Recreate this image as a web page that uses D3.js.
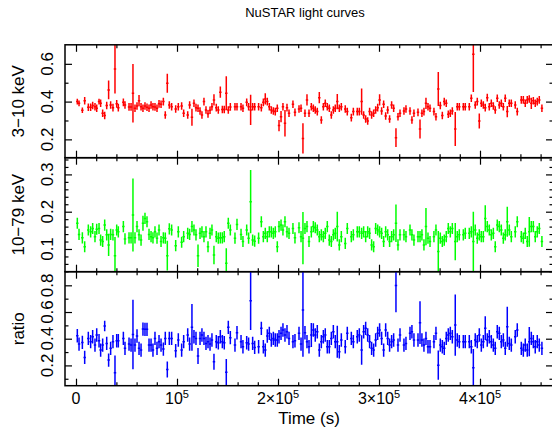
<!DOCTYPE html>
<html><head><meta charset="utf-8">
<script src="https://cdn.jsdelivr.net/npm/d3@7/dist/d3.min.js"></script>
<style>body{margin:0;background:#fff}svg{display:block}text{font-family:"Liberation Sans",Arial,Helvetica,sans-serif}</style>
</head><body>
<script>
// ---- data (time in ks) ----
const timeKs = [1.3,3.0,6.3,8.6,12.2,14.5,16.5,18.8,20.5,22.8,24.4,26.4,28.4,30.4,32.3,34.3,36.6,38.6,40.3,41.9,46.9,48.5,52.5,54.5,56.4,58.4,60.4,62.4,64.4,66.3,68.3,70.3,72.3,74.3,76.2,78.2,80.2,82.2,84.2,86.5,88.4,90.4,92.4,94.7,98.7,101.3,104.6,106.6,110.6,112.5,114.8,116.8,118.8,120.8,122.8,124.7,126.7,128.7,130.7,132.7,134.6,136.6,138.9,140.9,142.9,144.9,146.8,148.8,150.8,152.8,157.4,159.4,163.4,165.3,169.0,170.9,172.9,174.9,176.9,180.8,183.5,185.5,187.4,189.4,191.4,193.4,195.4,197.3,199.3,201.0,203.0,204.9,206.9,208.9,210.9,214.8,216.8,220.8,222.8,224.7,226.7,228.7,230.7,
233.0,235.0,236.9,238.9,240.9,242.9,244.9,246.8,248.8,250.8,252.8,254.8,256.7,258.7,260.7,262.7,266.6,268.6,272.6,274.6,278.5,280.5,282.8,284.8,286.8,288.8,290.7,292.7,294.7,296.7,298.7,300.6,302.6,304.6,306.6,308.6,310.5,312.5,314.5,316.8,318.8,320.8,324.7,326.7,330.7,332.6,334.6,338.6,340.6,342.5,344.5,346.5,348.5,350.5,354.4,356.4,358.7,360.7,362.7,364.6,366.6,368.6,370.6,372.6,375.5,377.5,379.5,383.5,385.4,389.4,391.4,393.4,395.3,397.3,399.3,401.3,403.3,405.2,407.2,409.2,411.2,413.2,415.1,417.1,419.1,421.1,423.1,425.0,427.0,429.0,431.0,434.9,436.9,440.9,442.9,444.8,446.8,448.8,450.8,452.8,454.7,456.7,458.7,461.3];
const binHalfKs = 1.2;

const soft = [0.400,0.391,0.354,0.405,0.370,0.370,0.379,0.373,0.365,0.400,
0.391,0.338,0.326,0.379,0.462,0.382,0.368,0.573,0.388,0.368,
0.396,0.382,0.372,0.372,0.444,0.365,0.377,0.405,0.373,0.365,
0.377,0.370,0.365,0.382,0.373,0.372,0.365,0.388,0.386,0.400,
0.329,0.497,0.382,0.373,0.361,0.373,0.377,0.338,0.329,0.382,
0.317,0.391,0.368,0.365,0.350,0.329,0.400,0.356,0.335,0.354,
0.373,0.409,0.368,0.356,0.450,0.358,0.358,0.444,0.356,0.372,
0.373,0.373,0.373,0.365,0.396,0.373,0.356,0.373,0.373,0.373,
0.368,0.396,0.414,0.400,0.373,0.356,0.350,0.347,0.365,0.273,
0.320,0.373,0.285,0.368,0.338,0.386,0.343,0.361,0.365,0.205,
0.338,0.409,0.338,
0.373,0.365,0.356,0.347,0.421,0.303,0.373,0.391,0.373,0.365,
0.329,0.356,0.365,0.400,0.365,0.373,0.361,0.347,0.315,0.347,
0.347,0.347,0.400,0.329,0.308,0.297,0.347,0.329,0.338,0.356,
0.368,0.409,0.350,0.386,0.324,0.356,0.308,0.382,0.365,0.209,
0.320,0.338,0.350,0.361,0.350,0.303,0.338,0.343,0.255,0.338,
0.347,0.391,0.373,0.365,0.347,0.320,0.467,0.379,0.326,0.400,
0.391,0.333,0.338,0.350,0.255,0.373,0.373,0.373,0.373,0.373,
0.418,0.651,0.382,0.400,0.297,0.391,0.382,0.368,0.421,0.373,
0.391,0.377,0.356,0.418,0.382,0.391,0.373,0.418,0.347,0.391,
0.391,0.382,0.347,0.409,0.409,0.391,0.409,0.414,0.391,0.404,
0.391,0.400,0.409,0.365];
const softErr = [.015,.015,.015,.02,.02,.02,.02,.02,.02,.015,
.02,.02,.02,.02,.05,.02,.02,.13,.02,.02,
.02,.02,.02,.02,.155,.02,.02,.03,.02,.02,
.02,.02,.02,.02,.02,.02,.02,.02,.02,.02,
.02,.05,.02,.02,.02,.02,.02,.02,.02,.02,
.045,.02,.02,.02,.02,.02,.02,.02,.02,.02,
.02,.03,.02,.02,.03,.02,.02,.09,.02,.02,
.02,.02,.02,.02,.02,.02,.08,.02,.02,.02,
.02,.02,.03,.02,.02,.02,.02,.02,.02,.03,
.03,.02,.07,.02,.02,.02,.02,.02,.02,.08,
.02,.03,.02,
.02,.02,.02,.02,.03,.02,.02,.02,.02,.02,
.02,.02,.02,.04,.02,.02,.02,.02,.02,.02,
.02,.02,.07,.02,.02,.02,.02,.02,.02,.02,
.02,.03,.02,.02,.02,.02,.02,.02,.02,.05,
.02,.02,.02,.02,.02,.02,.02,.02,.05,.02,
.02,.03,.02,.02,.02,.02,.09,.02,.02,.02,
.02,.02,.02,.02,.09,.02,.02,.02,.02,.02,
.02,.2,.02,.02,.04,.02,.02,.02,.02,.02,
.02,.02,.02,.02,.02,.02,.02,.02,.03,.02,
.02,.02,.02,.02,.02,.02,.02,.02,.03,.02,
.02,.02,.02,.02];

const hard = [0.169,0.139,0.130,0.106,0.151,0.146,0.155,0.133,0.153,0.155,
0.124,0.120,0.164,0.138,0.111,0.139,0.138,0.082,0.151,0.146,
0.160,0.127,0.130,0.130,0.191,0.130,0.160,0.138,0.124,0.169,
0.182,0.173,0.139,0.133,0.130,0.146,0.129,0.151,0.120,0.130,
0.129,0.082,0.154,0.151,0.109,0.146,0.118,0.133,0.142,0.139,
0.160,0.151,0.138,0.082,0.142,0.146,0.133,0.146,0.106,0.142,
0.151,0.084,0.133,0.129,0.130,0.130,0.133,0.062,0.169,0.151,
0.129,0.166,0.139,0.120,0.151,0.129,0.227,0.124,0.121,0.129,
0.173,0.133,0.142,0.133,0.146,0.146,0.142,0.146,0.106,0.160,
0.164,0.151,0.173,0.146,0.142,0.155,0.130,0.157,0.133,0.129,
0.155,0.160,0.120,
0.146,0.160,0.157,0.151,0.133,0.138,0.133,0.142,0.160,0.124,
0.120,0.138,0.142,0.160,0.111,0.133,0.115,0.155,0.133,0.138,
0.146,0.146,0.142,0.146,0.133,0.146,0.142,0.111,0.106,0.155,
0.151,0.146,0.142,0.120,0.146,0.138,0.120,0.133,0.138,0.169,
0.111,0.138,0.138,0.133,0.151,0.138,0.124,0.133,0.133,0.138,
0.111,0.160,0.129,0.120,0.133,0.151,0.093,0.129,0.120,0.124,
0.133,0.155,0.146,0.155,0.120,0.133,0.138,0.138,0.142,0.142,
0.146,0.120,0.151,0.129,0.138,0.133,0.133,0.182,0.160,0.151,
0.138,0.142,0.106,0.164,0.160,0.151,0.129,0.138,0.173,0.151,
0.133,0.146,0.173,0.133,0.129,0.142,0.120,0.146,0.160,0.160,
0.133,0.146,0.155,0.120];
const hardErr = [.015,.015,.015,.015,.015,.015,.015,.015,.015,.015,
.015,.015,.015,.015,.03,.015,.015,.05,.015,.015,
.015,.015,.015,.015,.098,.015,.015,.015,.015,.02,
.015,.015,.015,.015,.015,.015,.015,.015,.015,.015,
.015,.04,.015,.015,.015,.015,.015,.015,.015,.015,
.015,.015,.015,.03,.015,.015,.015,.015,.015,.015,
.015,.025,.015,.015,.015,.015,.015,.04,.015,.015,
.015,.015,.015,.015,.015,.015,.085,.015,.015,.015,
.015,.015,.015,.015,.015,.015,.015,.015,.015,.015,
.015,.015,.015,.015,.015,.015,.015,.015,.015,.07,
.015,.015,.015,
.015,.015,.015,.015,.015,.015,.015,.015,.015,.015,
.015,.015,.015,.04,.015,.015,.015,.015,.015,.015,
.015,.015,.015,.015,.015,.015,.015,.015,.015,.015,
.015,.015,.015,.015,.015,.015,.015,.015,.015,.05,
.015,.015,.015,.015,.015,.015,.015,.015,.015,.015,
.015,.05,.015,.015,.015,.015,.055,.015,.015,.015,
.015,.015,.015,.015,.05,.015,.015,.015,.015,.015,
.015,.08,.015,.015,.015,.015,.015,.035,.015,.015,
.015,.015,.015,.015,.015,.015,.015,.015,.04,.015,
.015,.015,.015,.015,.015,.015,.015,.04,.015,.015,
.015,.015,.015,.015];

const ratio = [0.422,0.360,0.372,0.260,0.402,0.378,0.415,0.352,0.428,0.385,
0.315,0.352,0.495,0.365,0.240,0.328,0.378,0.145,0.385,0.385,
0.402,0.328,0.360,0.352,0.432,0.352,0.420,0.328,0.315,0.472,
0.470,0.470,0.352,0.352,0.315,0.402,0.328,0.378,0.352,0.322,
0.402,0.170,0.402,0.402,0.310,0.390,0.315,0.378,0.428,0.360,
0.485,0.415,0.402,0.270,0.402,0.428,0.402,0.365,0.378,0.360,
0.390,0.228,0.378,0.370,0.415,0.378,0.370,0.148,0.485,0.408,
0.352,0.445,0.378,0.340,0.370,0.360,0.685,0.365,0.335,0.340,
0.478,0.340,0.315,0.420,0.440,0.390,0.402,0.390,0.390,0.415,
0.440,0.465,0.428,0.452,0.402,0.378,0.385,0.440,0.360,0.615,
0.445,0.378,0.340,
0.428,0.465,0.428,0.452,0.315,0.378,0.415,0.428,0.340,0.340,
0.402,0.452,0.378,0.378,0.302,0.390,0.340,0.440,0.402,0.378,
0.415,0.428,0.315,0.452,0.478,0.428,0.378,0.328,0.315,0.390,
0.440,0.465,0.402,0.315,0.465,0.402,0.352,0.378,0.390,0.798,
0.352,0.428,0.352,0.365,0.440,0.452,0.390,0.390,0.520,0.390,
0.352,0.402,0.340,0.340,0.378,0.440,0.202,0.352,0.340,0.328,
0.402,0.428,0.440,0.415,0.502,0.390,0.378,0.378,0.378,0.378,
0.340,0.182,0.390,0.378,0.428,0.352,0.378,0.478,0.390,0.415,
0.378,0.352,0.328,0.452,0.440,0.378,0.390,0.328,0.490,0.365,
0.352,0.415,0.465,0.328,0.315,0.352,0.315,0.378,0.402,0.378,
0.340,0.378,0.352,0.328];
const ratioErr = [.05,.05,.05,.05,.05,.05,.05,.05,.05,.05,
.05,.05,.04,.05,.05,.05,.05,.13,.05,.05,
.05,.05,.05,.05,.26,.05,.05,.05,.05,.05,
.05,.05,.05,.05,.05,.05,.05,.05,.05,.05,
.05,.06,.05,.05,.05,.05,.05,.05,.05,.05,
.175,.05,.05,.06,.05,.05,.05,.05,.05,.05,
.05,.06,.05,.05,.05,.05,.05,.1,.05,.05,
.05,.05,.05,.05,.05,.05,.22,.05,.05,.05,
.05,.05,.05,.05,.05,.05,.05,.05,.05,.05,
.05,.05,.05,.05,.05,.05,.05,.05,.05,.35,
.05,.05,.05,
.09,.05,.05,.05,.05,.05,.05,.05,.05,.05,
.05,.05,.05,.12,.05,.05,.05,.05,.05,.05,
.05,.05,.11,.05,.05,.05,.05,.05,.05,.05,
.05,.05,.05,.05,.05,.05,.05,.05,.05,.2,
.05,.05,.05,.05,.05,.05,.05,.05,.16,.05,
.05,.05,.05,.05,.05,.05,.11,.05,.05,.05,
.05,.05,.05,.05,.23,.05,.05,.05,.05,.05,
.05,.14,.05,.05,.05,.05,.05,.09,.05,.05,
.05,.05,.05,.05,.05,.05,.05,.05,.15,.05,
.05,.05,.05,.05,.05,.05,.05,.11,.05,.05,
.05,.05,.05,.05];

const xMajor = [0,100000,200000,300000,400000];
const xMajorLabels = [["0",""],["10","5"],["2×10","5"],["3×10","5"],["4×10","5"]];
const panelNames = ["3−10 keV","10−79 keV","ratio"];
const panelColors = ["#ff0000","#00ff00","#0000ff"];
const yDomains = [[0.1029,0.7008],[0.0391,0.3448],[0.048,0.902]];
const yMajors = [[0.2,0.4,0.6],[0.1,0.2,0.3],[0.2,0.4,0.6,0.8]];
const yMinors = [[0.3,0.5],[0.04,0.06,0.08,0.12,0.14,0.16,0.18,0.22,0.24,0.26,0.28,0.32,0.34],[0.1,0.3,0.5,0.7]];
const yLabels = [["0.2","0.4","0.6"],["0.1","0.2","0.3"],["0.2","0.4","0.6","0.8"]];
const title = "NuSTAR light curves";
const xTitle = "Time (s)";

// ---- layout ----
const W = 552, H = 432;
const L = 65, R = 553;
const tops = [44.8, 157.7, 271.7], bots = [157.7, 271.7, 385.7];

const svg = d3.select("body").append("svg").attr("width", W).attr("height", H);
const x = d3.scaleLinear().domain([-10891, 472277]).range([L, R]);

const xMinor = d3.range(0, 470001, 20000).filter(v => v % 100000 !== 0);

const series = [[soft, softErr],[hard, hardErr],[ratio, ratioErr]];

series.forEach((s, p) => {
  const y = d3.scaleLinear().domain(yDomains[p]).range([bots[p], tops[p]]);
  const clipId = "clip" + p;
  svg.append("clipPath").attr("id", clipId).append("rect")
    .attr("x", L).attr("y", tops[p]).attr("width", R - L).attr("height", bots[p] - tops[p]);
  const g = svg.append("g").attr("clip-path", `url(#${clipId})`)
    .attr("stroke", panelColors[p]).attr("stroke-width", 1.5);
  const vals = s[0], errs = s[1];
  const pts = timeKs.map((t, i) => ({t: t * 1000, v: vals[i], e: errs[i]}));
  g.selectAll("line.v").data(pts).join("line").attr("class", "v")
    .attr("x1", d => x(d.t)).attr("x2", d => x(d.t))
    .attr("y1", d => y(d.v - d.e)).attr("y2", d => y(d.v + d.e));
  g.selectAll("line.h").data(pts).join("line").attr("class", "h")
    .attr("x1", d => x(d.t - binHalfKs * 1000)).attr("x2", d => x(d.t + binHalfKs * 1000))
    .attr("y1", d => y(d.v)).attr("y2", d => y(d.v));

  // axes: inward ticks on all four sides
  const ax = svg.append("g");
  const addAxis = (axis, tx, ty) => {
    const a = ax.append("g").attr("transform", `translate(${tx},${ty})`).call(axis);
    a.select(".domain").remove();
    a.selectAll("text").remove();
    a.selectAll("line").attr("stroke", "#000").attr("stroke-width", 1.2);
  };
  addAxis(d3.axisTop(x).tickValues(xMajor).tickSize(7), 0, bots[p]);
  addAxis(d3.axisTop(x).tickValues(xMinor).tickSize(3.5), 0, bots[p]);
  addAxis(d3.axisBottom(x).tickValues(xMajor).tickSize(7), 0, tops[p]);
  addAxis(d3.axisBottom(x).tickValues(xMinor).tickSize(3.5), 0, tops[p]);
  addAxis(d3.axisRight(y).tickValues(yMajors[p]).tickSize(7), L, 0);
  addAxis(d3.axisRight(y).tickValues(yMinors[p]).tickSize(3.5), L, 0);
  addAxis(d3.axisLeft(y).tickValues(yMajors[p]).tickSize(7), R, 0);
  addAxis(d3.axisLeft(y).tickValues(yMinors[p]).tickSize(3.5), R, 0);

  // y tick labels (rotated)
  yMajors[p].forEach((v, i) => {
    svg.append("text").attr("x", 53).attr("y", y(v))
      .attr("transform", `rotate(-90,53,${y(v)})`)
      .attr("text-anchor", "middle").attr("font-size", 17).text(yLabels[p][i]);
  });
  // y axis title
  const cy = (tops[p] + bots[p]) / 2;
  svg.append("text").attr("x", 24).attr("y", cy)
    .attr("transform", `rotate(-90,24,${cy})`)
    .attr("text-anchor", "middle").attr("font-size", 17).text(panelNames[p]);

  svg.append("rect").attr("x", L).attr("y", tops[p]).attr("width", R - L).attr("height", bots[p] - tops[p])
    .attr("fill", "none").attr("stroke", "#000").attr("stroke-width", 1.5);
});

// x tick labels
xMajor.forEach((v, i) => {
  const t = svg.append("text").attr("x", x(v)).attr("y", 404)
    .attr("text-anchor", "middle").attr("font-size", 16);
  t.append("tspan").text(xMajorLabels[i][0]);
  if (xMajorLabels[i][1]) t.append("tspan").attr("dy", -6).attr("font-size", 11).text(xMajorLabels[i][1]);
});
svg.append("text").attr("x", 309).attr("y", 424).attr("text-anchor", "middle")
  .attr("font-size", 17).text(xTitle);
svg.append("text").attr("x", 305).attr("y", 17).attr("text-anchor", "middle")
  .attr("font-size", 13).text(title);
</script>
</body></html>
